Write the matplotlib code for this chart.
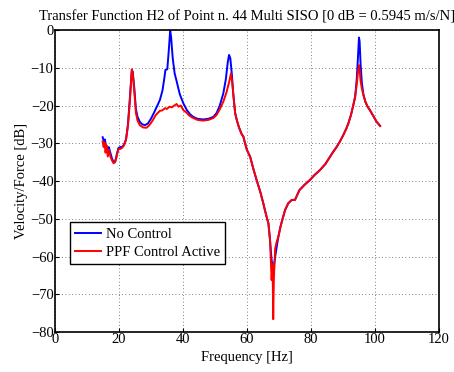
import numpy as np
import matplotlib.pyplot as plt

plt.rcParams['font.family'] = ['Liberation Serif', 'DejaVu Serif']
plt.rcParams['mathtext.fontset'] = 'stix'

# measured FRF, point 44, without control
nc_freq = [14.9, 15.3, 15.6, 16.0, 16.4, 16.8, 17.3, 17.8, 18.3, 18.8, 19.3, 19.8,
           20.4, 21.0, 21.6, 22.2, 22.8, 23.4, 24.0, 24.3, 24.8, 25.3, 25.8, 26.5,
           27.3, 28.1, 29.0, 30.0, 31.0, 32.0, 32.8, 33.6, 34.3, 34.5, 35.1, 35.6,
           36.0, 36.3, 36.8, 37.4, 38.0, 39.0, 40.1, 41.2, 42.2, 43.2, 44.5, 46.3,
           48.0, 49.5, 50.5, 51.5, 52.6, 53.4, 54.0, 54.4, 54.8, 55.3, 55.7, 56.3,
           56.8, 57.5, 58.3, 58.9, 59.4, 60.0, 61.0, 62.0, 63.0, 64.2, 65.1, 65.6,
           66.3, 66.7, 67.2, 67.7, 68.2, 68.5, 69.0, 69.8, 70.5, 71.3, 71.9, 72.9,
           74.0, 75.0, 76.4, 78.0, 79.7, 81.0, 82.8, 84.5, 86.0, 87.0, 88.0, 89.0,
           90.0, 91.0, 91.7, 92.5, 93.2, 93.8, 94.3, 94.7, 95.0, 95.2, 95.5, 95.9,
           96.4, 97.0, 97.7, 98.4, 99.5, 100.5, 101.6]
nc_db = [-28.4, -29.5, -29.0, -31.0, -31.5, -31.0, -32.5, -34.0, -35.0, -34.8, -33.0, -31.3,
         -31.0, -31.0, -30.3, -29.0, -25.0, -18.0, -11.0, -11.0, -15.5, -21.0, -23.0, -24.3,
         -25.0, -25.2, -24.8, -23.5, -21.8, -20.0, -18.5, -16.0, -12.0, -10.6, -10.4, -5.0,
         0.0, -2.0, -7.5, -11.5, -13.5, -17.0, -19.4, -21.2, -22.3, -23.0, -23.5, -23.7,
         -23.5, -23.0, -22.0, -20.0, -16.8, -13.0, -8.5, -6.6, -7.5, -12.0, -16.8, -22.0,
         -23.8, -25.8, -27.5, -28.3, -30.0, -31.8, -33.6, -36.8, -39.7, -43.0, -45.9, -47.7,
         -50.0, -51.2, -55.6, -61.0, -63.6, -62.0, -59.0, -54.8, -52.0, -49.5, -47.7, -45.9,
         -45.0, -45.0, -42.4, -41.0, -39.7, -38.5, -37.1, -35.5, -33.5, -32.2, -31.0, -29.6,
         -28.0, -26.2, -24.7, -22.5, -20.0, -17.7, -13.0, -7.0, -2.0, -3.0, -9.0, -14.0,
         -17.2, -19.0, -20.3, -21.2, -22.8, -24.3, -25.4]

# same point with PPF control switched on
ppf_freq = [14.9, 15.2, 15.5, 15.8, 16.1, 16.5, 16.9, 17.3, 17.8, 18.3, 18.8, 19.3,
            19.8, 20.4, 21.0, 21.6, 22.2, 22.8, 23.4, 24.0, 24.3, 24.8, 25.3, 25.8,
            26.5, 27.5, 28.6, 29.5, 30.5, 31.5, 32.8, 33.5, 34.4, 35.0, 35.8, 36.5,
            37.3, 38.0, 38.6, 39.3, 40.1, 41.0, 42.0, 43.2, 44.5, 46.3, 48.0, 49.5,
            50.5, 51.5, 52.6, 53.6, 54.5, 55.0, 55.4, 55.7, 56.3, 56.8, 57.5, 58.3,
            58.9, 59.4, 60.0, 61.0, 62.0, 63.0, 64.2, 65.1, 65.6, 66.3, 66.7, 67.2,
            67.7, 68.0, 68.2, 68.4, 68.8, 69.3, 69.8, 70.5, 71.3, 71.9, 72.9, 74.0,
            75.0, 76.4, 78.0, 79.7, 81.0, 82.8, 84.5, 86.0, 87.0, 88.0, 89.0, 90.0,
            91.0, 91.7, 92.5, 93.2, 93.8, 94.3, 94.7, 95.0, 95.2, 95.5, 95.9, 96.4,
            97.0, 97.7, 98.4, 99.5, 100.5, 101.6]
ppf_db = [-29.5, -31.0, -29.8, -32.5, -30.5, -33.5, -31.8, -33.5, -34.5, -35.3, -35.0, -33.5,
          -31.6, -31.5, -31.2, -30.5, -29.0, -25.5, -19.0, -10.4, -11.5, -16.5, -22.0, -24.0,
          -25.2, -25.8, -25.9, -25.2, -24.0, -22.5, -21.4, -21.3, -20.7, -20.9, -20.3, -20.5,
          -20.0, -19.6, -20.3, -20.0, -21.2, -21.8, -22.7, -23.3, -23.8, -24.0, -23.8, -23.3,
          -22.5, -21.0, -19.0, -16.5, -13.5, -11.5, -14.0, -16.8, -22.0, -23.8, -25.8, -27.5,
          -28.3, -30.0, -31.8, -33.6, -36.8, -39.7, -43.0, -45.9, -47.7, -50.0, -51.2, -55.6,
          -66.2, -62.0, -76.6, -66.0, -58.0, -56.0, -54.8, -52.0, -49.5, -47.7, -45.9, -45.0,
          -45.0, -42.4, -41.0, -39.7, -38.5, -37.1, -35.5, -33.5, -32.2, -31.0, -29.6, -28.0,
          -26.2, -24.7, -22.5, -20.0, -17.7, -14.5, -11.0, -9.3, -10.5, -13.5, -15.5, -17.2,
          -19.0, -20.3, -21.2, -22.8, -24.3, -25.4]

fig = plt.figure(figsize=(4.54, 3.72), dpi=100)
ax = fig.add_axes([0.1211, 0.1075, 0.8458, 0.8118])

ax.plot(nc_freq, nc_db, color='#0000ff', lw=1.4, label='No Control')
ax.plot(ppf_freq, ppf_db, color='#ff0000', lw=1.4, label='PPF Control Active')

ax.set_xlim(0, 120)
ax.set_ylim(-80, 0)
ax.set_xticks(np.arange(0, 121, 20))
ax.set_yticks(np.arange(-80, 1, 10))
ax.grid(True, linestyle=(0, (1, 3)), color='#555555', linewidth=0.6)
ax.tick_params(direction='in', labelsize=10.5, length=3, pad=1)
for s in ax.spines.values():
    s.set_linewidth(1.2)

ax.set_title('Transfer Function H2 of Point n. 44 Multi SISO [0 dB = 0.5945 m/s/N]',
             fontsize=10.5, pad=7)
ax.set_xlabel('Frequency [Hz]', fontsize=10.5, labelpad=3)
ax.set_ylabel('Velocity/Force [dB]', fontsize=10.5, labelpad=2)

leg = ax.legend(loc='lower left', bbox_to_anchor=(0.039, 0.225), fontsize=10.5,
                fancybox=False, framealpha=1, edgecolor='black', borderpad=0.35,
                handlelength=1.8, handletextpad=0.3, labelspacing=0.35,
                borderaxespad=0)
leg.get_frame().set_linewidth(1.0)

fig.savefig('out.png', dpi=100)
